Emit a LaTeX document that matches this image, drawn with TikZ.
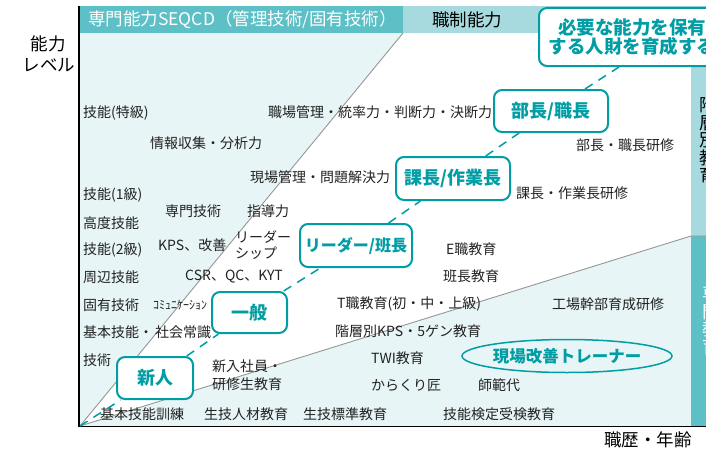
\documentclass[tikz,border=0pt]{standalone}
\usepackage{fontspec}
\setmainfont{Noto Sans CJK JP}
\usetikzlibrary{shapes.geometric,calc}
\definecolor{teal1}{RGB}{0,158,164}
\definecolor{hdrdark}{RGB}{92,192,198}
\definecolor{hdrlight}{RGB}{167,218,222}
\definecolor{lightfill}{RGB}{232,245,246}
\definecolor{txt}{RGB}{34,34,34}
\definecolor{gline}{RGB}{150,150,150}
\newcommand\myfs[1]{\fontsize{#1pt}{#1pt}\selectfont}
\begin{document}
\begin{tikzpicture}[x=1pt,y=-1pt,
  lbl/.style={inner sep=0pt, text=txt, font=\myfs{14}, anchor=west},
  boxnode/.style={draw=teal1, line width=2pt, rounded corners=8pt, fill=white,
     text=teal1, font=\myfs{18}\bfseries, inner sep=0pt},
  conn/.style={draw=teal1, line width=1.5pt, dash pattern=on 9pt off 7pt},
  axislbl/.style={inner sep=0pt, text=black, font=\myfs{17.5}},
  vtext/.style={inner sep=0pt, font=\myfs{17.5}, align=left, anchor=north west}]
\clip (0,0) rectangle (706,452);
\useasboundingbox (0,0) rectangle (706,452);
% background regions
\fill[lightfill] (80,426) -- (80,33) -- (403,33) -- cycle;
\fill[lightfill] (80,426) -- (691,236) -- (691,426) -- cycle;
\fill[hdrdark] (80,6) rectangle (403,33);
\fill[hdrlight] (403,6) rectangle (706,33);
\fill[hdrlight] (691,33) rectangle (706,236);
\fill[hdrdark] (691,236) rectangle (706,426);
\draw[gline, line width=0.9pt] (80,426) -- (403,33);
\draw[gline, line width=0.9pt] (80,426) -- (691,236) -- (706,236);
% axes
\draw[line width=1.5pt, black] (79,6) -- (79,426.5) -- (706,426.5);
% header texts
\node[inner sep=0pt, anchor=west, text=white, font=\myfs{17.5}] (hdr1) at (88,20) {専門能力SEQCD（管理技術/固有技術）};
\node[inner sep=0pt, text=black, font=\myfs{17.5}] (hdr2) at (467,20) {職制能力};
% right strip vertical texts (cut off at the right edge, as in the reference)
\node[vtext, text=black] (strip1) at (699.5,97) {階\\層\\別\\教\\育};
\node[vtext, text=white] (strip2) at (702.5,286) {専\\門\\教\\育};
% axis labels
\node[axislbl] (ylab1) at (48,44) {能力};
\node[axislbl] (ylab2) at (49,65) {レベル};
\node[axislbl] (xlab) at (648,440) {職歴・年齢};
% left column
\node[lbl] (tokkyu) at (83,113) {技能(特級)};
\node[lbl] (ikkyu) at (83,195) {技能(1級)};
\node[lbl] (kodo) at (83,223) {高度技能};
\node[lbl] (nikyu) at (83,250) {技能(2級)};
\node[lbl] (shuhen) at (83,277) {周辺技能};
\node[lbl] (koyu) at (83,305) {固有技術};
\node[lbl] (kihon) at (83,332) {基本技能・};
\node[lbl] (shakai) at (155,332) {社会常識};
\node[lbl] (gijutsu) at (83,360) {技術};
% middle texts
\node[lbl] (joho) at (150,143) {情報収集・分析力};
\node[lbl] (shokuba) at (268,112) {職場管理・統率力・判断力・決断力};
\node[lbl] (genba) at (250,177) {現場管理・問題解決力};
\node[lbl] (senmon) at (165,211) {専門技術};
\node[lbl] (shidou) at (247,211) {指導力};
\node[lbl] (kps) at (158,245) {KPS、改善};
\node[lbl, align=left, font=\fontsize{14pt}{16pt}\selectfont] (leadership) at (235,245) {リーダー\\シップ};
\node[lbl] (csr) at (185,277) {CSR、QC、KYT};
\node[lbl, font=\myfs{12}] (comm) at (153,305) {ｺﾐｭﾆｹｰｼｮﾝ};
\node[lbl, align=left, font=\fontsize{14pt}{18pt}\selectfont] (shinnyu) at (212,375) {新入社員・\\研修生教育};
\node[lbl] (kunren) at (100,414) {基本技能訓練};
\node[lbl] (seigi) at (204,414) {生技人材教育};
\node[lbl] (hyojun) at (303,414) {生技標準教育};
\node[lbl] (kentei) at (443,414) {技能検定受検教育};
\node[lbl] (twi) at (371,358) {TWI教育};
\node[lbl] (karakuri) at (371,385) {からくり匠};
\node[lbl] (shihan) at (478,385) {師範代};
\node[lbl] (tshoku) at (337,304) {T職教育(初・中・上級)};
\node[lbl] (kaiso) at (335,331) {階層別KPS・5ゲン教育};
\node[lbl] (kojo) at (552,304) {工場幹部育成研修};
\node[lbl] (eshoku) at (446,249) {E職教育};
\node[lbl] (hancho) at (443,276) {班長教育};
\node[lbl] (kachoken) at (516,193) {課長・作業長研修};
\node[lbl] (buchoken) at (576,145) {部長・職長研修};
% boxes
\coordinate (O) at (80,426);
\node[boxnode, minimum width=76pt, minimum height=42pt] (shinjin) at (155,378) {新人};
\node[boxnode, minimum width=75pt, minimum height=41pt] (ippan) at (249.5,312.5) {一般};
\node[boxnode, minimum width=112pt, minimum height=43pt, font=\myfs{16}\bfseries] (leader) at (356,245.5) {リーダー/班長};
\node[boxnode, minimum width=114pt, minimum height=43pt] (kacho) at (453,178.5) {課長/作業長};
\node[boxnode, minimum width=114pt, minimum height=42pt] (bucho) at (551,111) {部長/職長};
\node[boxnode, minimum width=186pt, minimum height=58pt, align=center, font=\fontsize{18.5pt}{19.5pt}\selectfont\bfseries] (need) at (632,37) {必要な能力を保有\\する人財を育成する};
% connectors
\draw[conn] (O) -- (shinjin);
\draw[conn] (shinjin) -- (ippan);
\draw[conn] (ippan) -- (leader);
\draw[conn] (leader) -- (kacho);
\draw[conn] (kacho) -- (bucho);
\draw[conn] (bucho) -- ($(need.south west)+(81,0)$);
% ellipse
\node[draw=teal1, line width=1.5pt, ellipse, minimum width=183pt, minimum height=33pt, inner sep=0pt, text=teal1, font=\myfs{16.5}\bfseries] (trainer) at (567,356) {現場改善トレーナー};
\end{tikzpicture}
\end{document}
